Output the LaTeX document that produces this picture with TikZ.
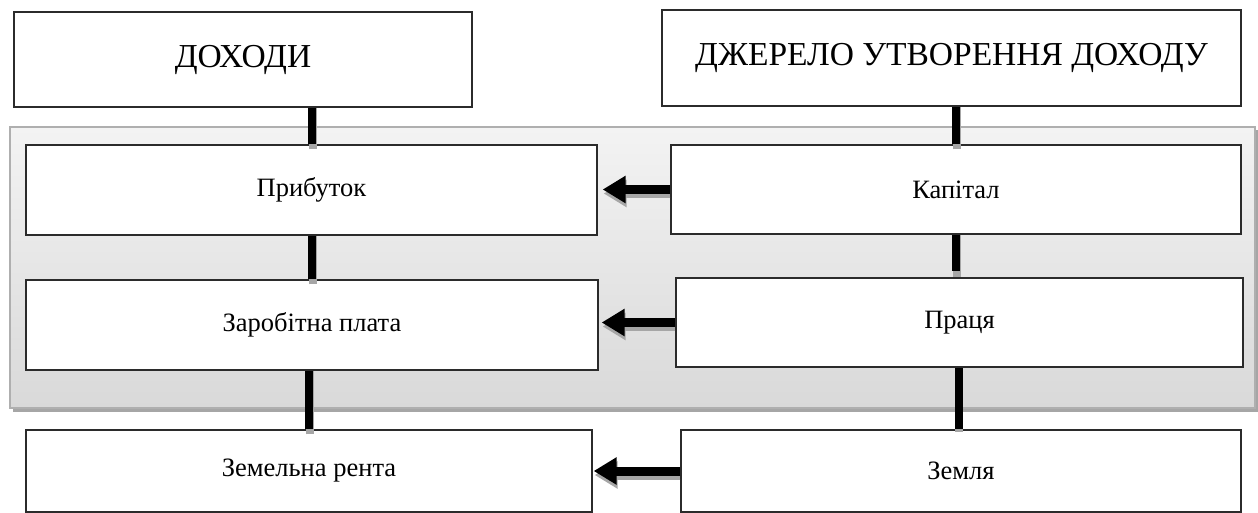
\documentclass[tikz,border=0pt]{standalone}
\usepackage{fontspec}
\setmainfont{Liberation Serif}
\usetikzlibrary{arrows.meta}
\definecolor{boxline}{HTML}{2B2B2B}
\definecolor{shadowgray}{HTML}{A6A6A6}
\definecolor{paneltop}{HTML}{F3F3F3}
\definecolor{panelbot}{HTML}{D9D9D9}
\tikzset{
  box/.style={draw=boxline, line width=1.3pt, fill=white, rectangle, inner sep=0pt, font=\fontsize{26.5}{30}\selectfont},
  bigbox/.style={box, font=\fontsize{33.5}{38}\selectfont},
  link/.style={line width=8pt, black},
  linkshadow/.style={line width=8pt, shadowgray},
  arr/.style={line width=9pt, black, -{Triangle[length=23pt, width=26pt]}},
  arrshadow/.style={line width=9pt, shadowgray, -{Triangle[length=23pt, width=26pt]}},
}
\begin{document}
\begin{tikzpicture}[x=1pt, y=-1pt]
\path[use as bounding box, clip] (0,0) rectangle (1258,512);
\fill[white] (0,0) rectangle (1258,512);
% panel
\fill[shadowgray] (13,130) rectangle (1258,412);
\shade[top color=paneltop, bottom color=panelbot, draw=shadowgray!90, line width=1.2pt] (10,127) rectangle (1255,408);
% boxes
\node[bigbox, minimum width=458pt, minimum height=95pt] (dohody) at (243,59.5) {ДОХОДИ};
\node[bigbox, minimum width=579pt, minimum height=96pt] (dzherelo) at (951.5,58) {ДЖЕРЕЛО УТВОРЕННЯ ДОХОДУ};
\node[box, minimum width=571pt, minimum height=90pt] (prybutok) at (311.5,190) {Прибуток};
\node[box, minimum width=570pt, minimum height=89pt] (kapital) at (956,189.5) {Капітал};
\node[box, minimum width=572pt, minimum height=90pt] (zarobitna) at (312,325) {Заробітна плата};
\node[box, minimum width=567pt, minimum height=89pt] (pratsia) at (959.5,322.5) {Праця};
\node[box, minimum width=566pt, minimum height=82pt] (zemrenta) at (309,471) {Земельна рента};
\node[box, minimum width=560pt, minimum height=82pt] (zemlia) at (961,471) {Земля};
% vertical links (shadow then line)
\foreach \a/\b in {dohody/prybutok, prybutok/zarobitna, zarobitna/zemrenta, dzherelo/kapital}{
  \draw[linkshadow] ([xshift=1pt,yshift=-5pt]\b.north) -- ([xshift=1pt]\b.north |- \a.south);
  \draw[link] (\b.north) -- (\b.north |- \a.south);
}
\draw[linkshadow] ([xshift=1pt]kapital.south) -- ([xshift=1pt]kapital.south |- pratsia.north);
\draw[link] (kapital.south) -- ([yshift=6pt]kapital.south |- pratsia.north);
\draw[linkshadow] ([xshift=-1pt]pratsia.south) -- ([xshift=-1pt,yshift=-3pt]pratsia.south |- zemlia.north);
\draw[link] ([xshift=-1pt]pratsia.south) -- ([xshift=-1pt]pratsia.south |- zemlia.north);
% horizontal arrows
\draw[arrshadow, shorten >=4pt] ([yshift=-4pt]kapital.west) -- ([xshift=2pt,yshift=-4pt]kapital.west -| prybutok.east);
\draw[arr, shorten >=5pt] (kapital.west) -- (kapital.west -| prybutok.east);
\draw[arrshadow, shorten >=2pt] ([yshift=-4pt]pratsia.west) -- ([xshift=2pt,yshift=-4pt]pratsia.west -| zarobitna.east);
\draw[arr, shorten >=3pt] (pratsia.west) -- (pratsia.west -| zarobitna.east);
\draw[arrshadow, shorten >=0pt] ([yshift=-4pt]zemlia.west) -- ([xshift=2pt,yshift=-4pt]zemlia.west -| zemrenta.east);
\draw[arr, shorten >=1pt] (zemlia.west) -- (zemlia.west -| zemrenta.east);
\end{tikzpicture}
\end{document}
